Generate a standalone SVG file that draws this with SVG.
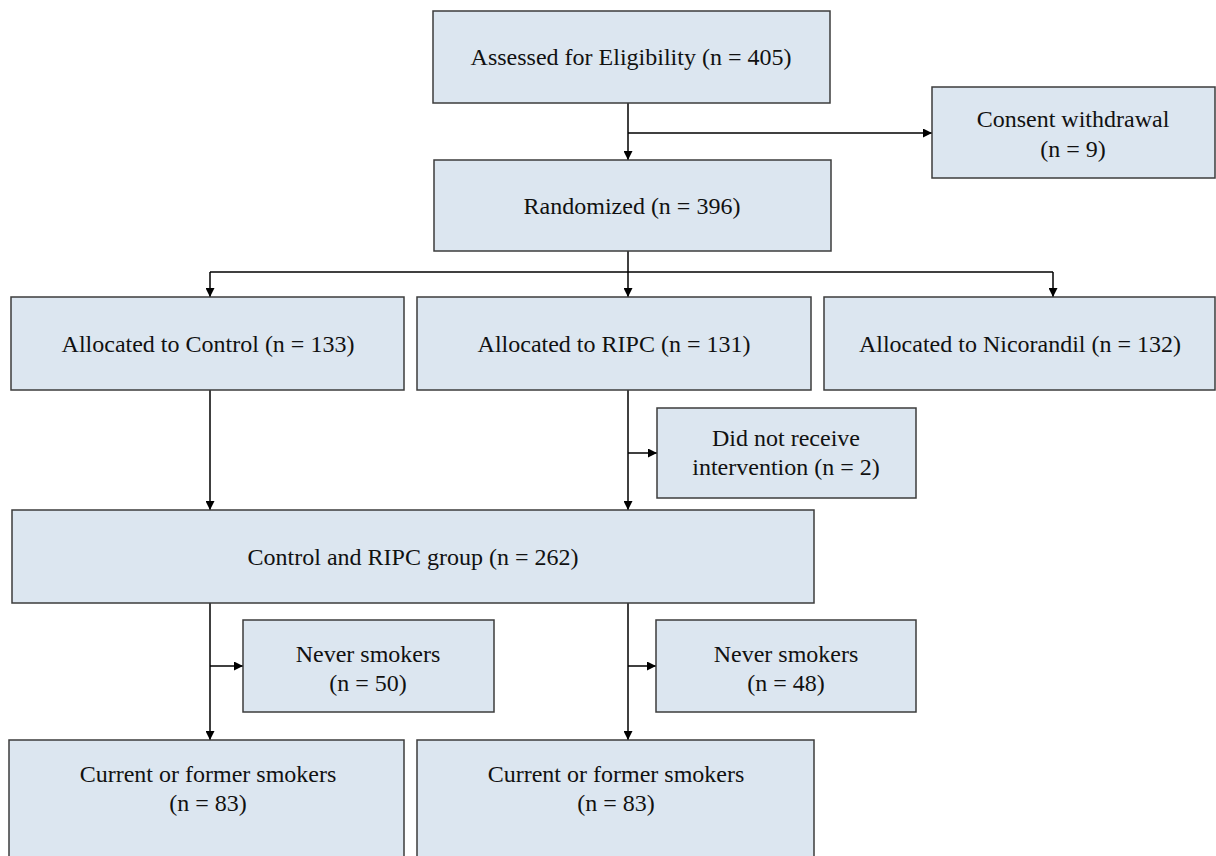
<svg xmlns="http://www.w3.org/2000/svg" width="1216" height="856" viewBox="0 0 1216 856">
<defs>
<marker id="ah" viewBox="0 0 10 10" refX="10" refY="5" markerWidth="9" markerHeight="9" markerUnits="userSpaceOnUse" orient="auto">
<path d="M0,0 L10,5 L0,10 z" fill="#000"/>
</marker>
<style>
.box{fill:#dce6f0;stroke:#3c3c3c;stroke-width:1.5}
.t{font-family:"Liberation Serif","Times New Roman",serif;font-size:24px;fill:#111;text-anchor:middle;dominant-baseline:central}
.c{fill:none;stroke:#000;stroke-width:1.5}
</style>
</defs>
<rect width="1216" height="856" fill="#fff"/>
<g id="connectors">
<path class="c" d="M628,103 V160" marker-end="url(#ah)"/>
<path class="c" d="M628,133 H932" marker-end="url(#ah)"/>
<path class="c" d="M628,251 V272"/>
<path class="c" d="M210,272 H1053"/>
<path class="c" d="M210,272 V297" marker-end="url(#ah)"/>
<path class="c" d="M628,272 V297" marker-end="url(#ah)"/>
<path class="c" d="M1053,272 V297" marker-end="url(#ah)"/>
<path class="c" d="M210,390 V510" marker-end="url(#ah)"/>
<path class="c" d="M628,390 V510" marker-end="url(#ah)"/>
<path class="c" d="M628,453 H657" marker-end="url(#ah)"/>
<path class="c" d="M210,603 V740" marker-end="url(#ah)"/>
<path class="c" d="M628,603 V740" marker-end="url(#ah)"/>
<path class="c" d="M210,666 H243" marker-end="url(#ah)"/>
<path class="c" d="M628,666 H656" marker-end="url(#ah)"/>
</g>
<g id="assessed"><rect class="box" x="433" y="11" width="397" height="92"/><text class="t" x="631" y="57">Assessed for Eligibility (n = 405)</text></g>
<g id="consent"><rect class="box" x="932" y="87" width="283" height="91"/><text class="t" x="1073" y="119">Consent withdrawal</text><text class="t" x="1073" y="149">(n = 9)</text></g>
<g id="randomized"><rect class="box" x="434" y="160" width="397" height="91"/><text class="t" x="632" y="206">Randomized (n = 396)</text></g>
<g id="control"><rect class="box" x="11" y="297" width="393" height="93"/><text class="t" x="208" y="344">Allocated to Control (n = 133)</text></g>
<g id="ripc"><rect class="box" x="417" y="297" width="394" height="93"/><text class="t" x="614" y="344">Allocated to RIPC (n = 131)</text></g>
<g id="nicorandil"><rect class="box" x="824" y="297" width="391" height="93"/><text class="t" x="1020" y="344">Allocated to Nicorandil (n = 132)</text></g>
<g id="noint"><rect class="box" x="657" y="408" width="259" height="90"/><text class="t" x="786" y="438">Did not receive</text><text class="t" x="786" y="467">intervention (n = 2)</text></g>
<g id="combined"><rect class="box" x="12" y="510" width="802" height="93"/><text class="t" x="413" y="557">Control and RIPC group (n = 262)</text></g>
<g id="never1"><rect class="box" x="243" y="620" width="251" height="92"/><text class="t" x="368" y="654">Never smokers</text><text class="t" x="368" y="683">(n = 50)</text></g>
<g id="never2"><rect class="box" x="656" y="620" width="260" height="92"/><text class="t" x="786" y="654">Never smokers</text><text class="t" x="786" y="683">(n = 48)</text></g>
<g id="current1"><rect class="box" x="9" y="740" width="395" height="120"/><text class="t" x="208" y="774">Current or former smokers</text><text class="t" x="208" y="803">(n = 83)</text></g>
<g id="current2"><rect class="box" x="417" y="740" width="397" height="120"/><text class="t" x="616" y="774">Current or former smokers</text><text class="t" x="616" y="803">(n = 83)</text></g>
</svg>
